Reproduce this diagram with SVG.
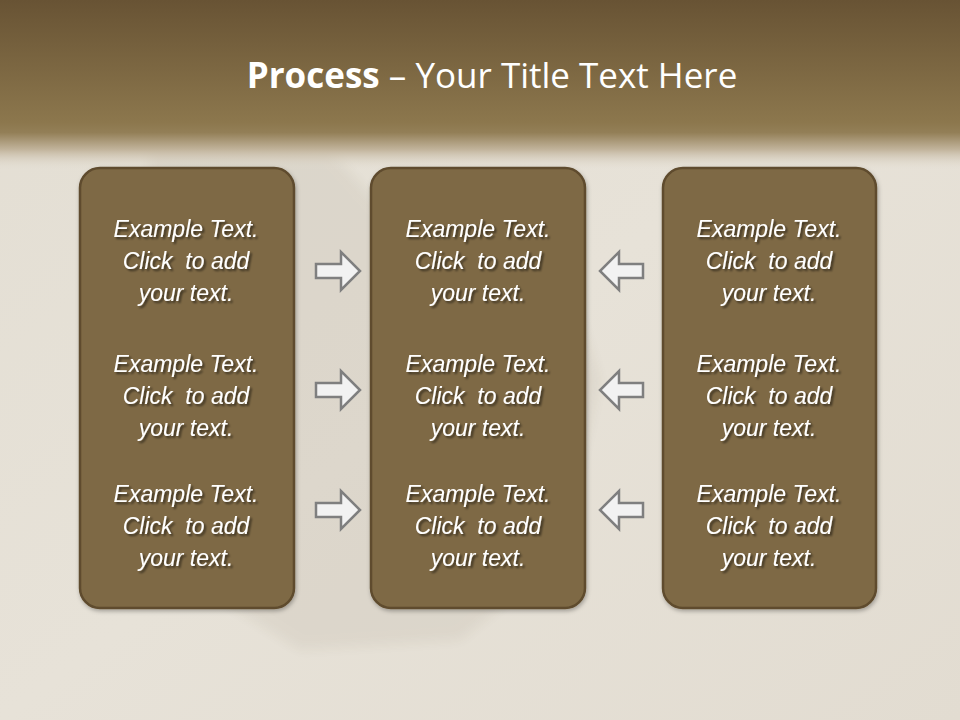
<svg xmlns="http://www.w3.org/2000/svg" width="960" height="720" viewBox="0 0 960 720">
<defs>
<linearGradient id="band" x1="0" y1="0" x2="0" y2="1">
<stop offset="0" stop-color="#685334"/>
<stop offset="0.72" stop-color="#8c774d"/>
<stop offset="0.78" stop-color="#937f57"/>
<stop offset="0.88" stop-color="#c2b49c"/>
<stop offset="1" stop-color="#e3ded3" stop-opacity="0"/>
</linearGradient>
<linearGradient id="paper" x1="0" y1="0" x2="1" y2="1">
<stop offset="0" stop-color="#e3ded3"/>
<stop offset="0.5" stop-color="#e7e2d8"/>
<stop offset="1" stop-color="#e2dcd1"/>
</linearGradient>
<filter id="tsh" x="-10%" y="-30%" width="120%" height="160%">
<feDropShadow dx="2" dy="2" stdDeviation="1.2" flood-color="#000" flood-opacity="0.55"/>
</filter>
<filter id="bsh" x="-10%" y="-10%" width="120%" height="120%">
<feDropShadow dx="1" dy="2" stdDeviation="2" flood-color="#000" flood-opacity="0.3"/>
</filter>
<filter id="blur"><feGaussianBlur stdDeviation="6"/></filter>
<style>
.box{fill:#7e6944;stroke:#5e4b2d;stroke-width:2.5}
.t{font-family:"Liberation Sans","DejaVu Sans",sans-serif;font-style:italic;font-size:23px;fill:#ffffff;text-anchor:middle;white-space:pre}
.arr{fill:#f2f2f2;stroke:#7f7f7f;stroke-width:2.5;stroke-linejoin:miter}
.title{font-family:"Open Sans","Liberation Sans",sans-serif;font-size:35px;fill:#ffffff;text-anchor:middle}
</style>
</defs>
<rect x="0" y="0" width="960" height="720" fill="url(#paper)"/>
<g opacity="0.05" fill="#3a2a10" filter="url(#blur)">
<path d="M150 140 L330 150 L420 250 L560 250 L600 380 L560 560 L460 640 L300 650 L220 600 L180 480 L140 360 Z"/>
</g>
<rect x="0" y="0" width="960" height="170" fill="url(#band)"/>
<text class="title" x="492" y="88"><tspan font-weight="bold">Process</tspan> – Your Title Text Here</text>
<g id="box-left" filter="url(#bsh)">
<rect class="box" x="80" y="168" width="214" height="440" rx="20"/>
</g>
<g id="box-middle" filter="url(#bsh)">
<rect class="box" x="371" y="168" width="214" height="440" rx="20"/>
</g>
<g id="box-right" filter="url(#bsh)">
<rect class="box" x="663" y="168" width="213" height="440" rx="20"/>
</g>
<g id="texts" filter="url(#tsh)" xml:space="preserve">
<g id="left-texts">
<text class="t" x="186" y="237">Example Text.</text><text class="t" x="186" y="269">Click  to add</text><text class="t" x="186" y="301">your text.</text>
<text class="t" x="186" y="372">Example Text.</text><text class="t" x="186" y="404">Click  to add</text><text class="t" x="186" y="436">your text.</text>
<text class="t" x="186" y="502">Example Text.</text><text class="t" x="186" y="534">Click  to add</text><text class="t" x="186" y="566">your text.</text>
</g>
<g id="middle-texts">
<text class="t" x="478" y="237">Example Text.</text><text class="t" x="478" y="269">Click  to add</text><text class="t" x="478" y="301">your text.</text>
<text class="t" x="478" y="372">Example Text.</text><text class="t" x="478" y="404">Click  to add</text><text class="t" x="478" y="436">your text.</text>
<text class="t" x="478" y="502">Example Text.</text><text class="t" x="478" y="534">Click  to add</text><text class="t" x="478" y="566">your text.</text>
</g>
<g id="right-texts">
<text class="t" x="769" y="237">Example Text.</text><text class="t" x="769" y="269">Click  to add</text><text class="t" x="769" y="301">your text.</text>
<text class="t" x="769" y="372">Example Text.</text><text class="t" x="769" y="404">Click  to add</text><text class="t" x="769" y="436">your text.</text>
<text class="t" x="769" y="502">Example Text.</text><text class="t" x="769" y="534">Click  to add</text><text class="t" x="769" y="566">your text.</text>
</g>
</g>
<g id="connectors">
<path class="arr" d="M316 264 H341 V252 L360 271 L341 290 V278 H316 Z"/>
<path class="arr" d="M316 383 H341 V371 L360 390 L341 409 V397 H316 Z"/>
<path class="arr" d="M316 503 H341 V491 L360 510 L341 529 V517 H316 Z"/>
<path class="arr" d="M643 264 H619 V252 L600 271 L619 290 V278 H643 Z"/>
<path class="arr" d="M643 383 H619 V371 L600 390 L619 409 V397 H643 Z"/>
<path class="arr" d="M643 503 H619 V491 L600 510 L619 529 V517 H643 Z"/>
</g>
</svg>
